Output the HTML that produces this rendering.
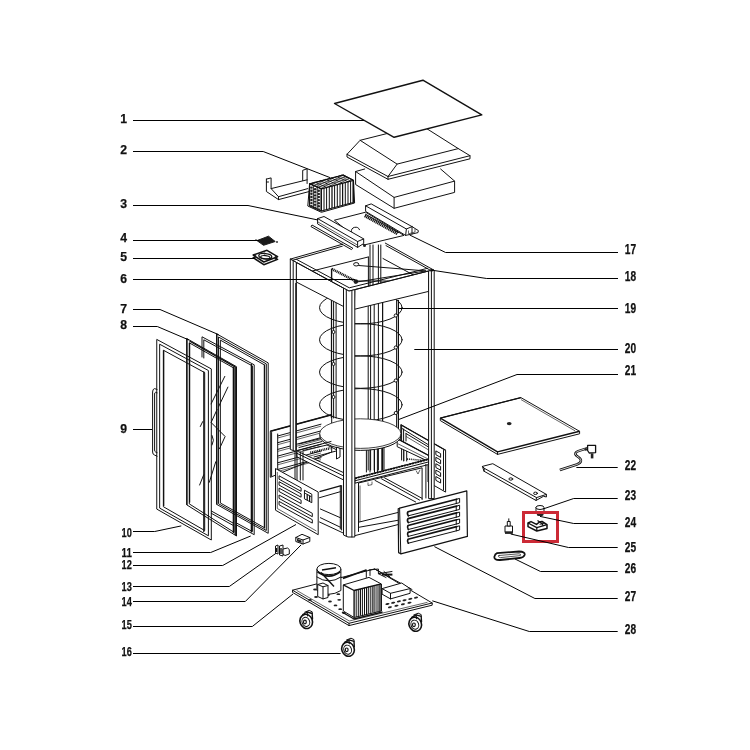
<!DOCTYPE html>
<html><head><meta charset="utf-8"><title>Exploded view</title>
<style>
html,body{margin:0;padding:0;background:#fff;}
body{width:750px;height:750px;overflow:hidden;font-family:"Liberation Sans",sans-serif;}
svg{display:block;will-change:transform;-webkit-font-smoothing:antialiased}
.l{fill:none;stroke:#111;stroke-width:1;stroke-linejoin:round;stroke-linecap:round}
.lw{fill:#fff;stroke:#111;stroke-width:1;stroke-linejoin:round}
.t{fill:none;stroke:#222;stroke-width:0.7}
.k{fill:none;stroke:#111;stroke-width:1.4;stroke-linejoin:round}
.l2{fill:none;stroke:#111;stroke-width:1.25;stroke-linejoin:round}
.g{fill:none;stroke:#555;stroke-width:0.7}
.d{fill:#222;stroke:none}
.ld{fill:none;stroke:#000;stroke-width:1}
text{font-family:"Liberation Sans",sans-serif;font-weight:bold;font-size:13.4px;fill:#111;stroke:#111;stroke-width:0.25}
text.r{font-size:14px}
</style></head><body>
<svg width="750" height="750" viewBox="0 0 750 750">
<rect x="0" y="0" width="750" height="750" fill="#fff"/>
<text x="120.2" y="122.8" textLength="6.8" lengthAdjust="spacingAndGlyphs">1</text>
<text x="120.2" y="154.1" textLength="6.8" lengthAdjust="spacingAndGlyphs">2</text>
<text x="120.2" y="207.8" textLength="6.8" lengthAdjust="spacingAndGlyphs">3</text>
<text x="120.2" y="242.4" textLength="6.8" lengthAdjust="spacingAndGlyphs">4</text>
<text x="120.2" y="261.1" textLength="6.8" lengthAdjust="spacingAndGlyphs">5</text>
<text x="120.2" y="282.9" textLength="6.8" lengthAdjust="spacingAndGlyphs">6</text>
<text x="120.2" y="313.0" textLength="6.8" lengthAdjust="spacingAndGlyphs">7</text>
<text x="120.2" y="328.9" textLength="6.8" lengthAdjust="spacingAndGlyphs">8</text>
<text x="120.2" y="433.3" textLength="6.8" lengthAdjust="spacingAndGlyphs">9</text>
<text x="121.5" y="536.7" textLength="10.3" lengthAdjust="spacingAndGlyphs">10</text>
<text x="121.5" y="556.7" textLength="10.3" lengthAdjust="spacingAndGlyphs">11</text>
<text x="121.5" y="569.0" textLength="10.3" lengthAdjust="spacingAndGlyphs">12</text>
<text x="121.5" y="590.7" textLength="10.3" lengthAdjust="spacingAndGlyphs">13</text>
<text x="121.5" y="606.0" textLength="10.3" lengthAdjust="spacingAndGlyphs">14</text>
<text x="121.5" y="629.3" textLength="10.3" lengthAdjust="spacingAndGlyphs">15</text>
<text x="121.5" y="655.7" textLength="10.3" lengthAdjust="spacingAndGlyphs">16</text>
<text class="r" x="624.8" y="254.0" textLength="11.3" lengthAdjust="spacingAndGlyphs">17</text>
<text class="r" x="624.8" y="281.0" textLength="11.3" lengthAdjust="spacingAndGlyphs">18</text>
<text class="r" x="624.8" y="313.0" textLength="11.3" lengthAdjust="spacingAndGlyphs">19</text>
<text class="r" x="624.8" y="353.0" textLength="11.3" lengthAdjust="spacingAndGlyphs">20</text>
<text class="r" x="624.8" y="375.0" textLength="11.3" lengthAdjust="spacingAndGlyphs">21</text>
<text class="r" x="624.8" y="470.3" textLength="11.3" lengthAdjust="spacingAndGlyphs">22</text>
<text class="r" x="624.8" y="500.1" textLength="11.3" lengthAdjust="spacingAndGlyphs">23</text>
<text class="r" x="624.8" y="526.5" textLength="11.3" lengthAdjust="spacingAndGlyphs">24</text>
<text class="r" x="624.8" y="551.8" textLength="11.3" lengthAdjust="spacingAndGlyphs">25</text>
<text class="r" x="624.8" y="572.8" textLength="11.3" lengthAdjust="spacingAndGlyphs">26</text>
<text class="r" x="624.8" y="600.6" textLength="11.3" lengthAdjust="spacingAndGlyphs">27</text>
<text class="r" x="624.8" y="633.5" textLength="11.3" lengthAdjust="spacingAndGlyphs">28</text>
<path class="lw" d="M355.6,171.5 L394.1,197.4 L454.6,181.1 L454.6,192.4 L394.1,208.3 L355.6,184.5Z"/>
<path class="l" d="M394.1,197.4 L394.1,208.3"/>
<path class="l" d="M355.6,171.5 L364.7,169.0"/>
<path class="l" d="M454.6,181.1 L440.6,169.0"/>
<path class="lw" d="M347.0,154.3 L360.1,140.3 L421.0,125.0 L458.3,148.6 L470.0,155.7 L470.0,158.8 L388.0,179.3 L347.0,157.0Z"/>
<path class="l" d="M360.1,140.3 L397.1,164.1 L458.3,148.6"/>
<path class="l" d="M397.1,164.1 L388.0,176.5"/>
<path class="l" d="M347.0,154.3 L388.0,176.5 L470.0,155.7"/>
<path class="l" d="M388.0,176.5 L388.0,179.3"/>
<path class="lw" d="M334.5,103.5 L422.9,80.2 L481.8,114.9 L394.1,137.3Z" style="stroke-width:1.4"/>
<path class="l" d="M266.4,179.1 L271.1,177.9 L271.1,188.6 L307.1,179.8"/>
<path class="l" d="M266.4,179.1 L266.4,191.5 L278.5,199.6 L309.3,191.5"/>
<path class="l" d="M266.4,182.0 L268.5,182.0"/>
<path class="l" d="M271.1,188.6 L278.5,196.7 L307.8,188.6"/>
<path class="l" d="M278.5,196.7 L278.5,199.6"/>
<path class="l" d="M302.7,180.5 L302.7,170.3 L307.1,168.8 L307.1,183.5"/>
<path class="lw" d="M307.8,206.0 L309.6,184.0 L343.2,175.0 L353.5,180.3 L354.6,203.0 L321.4,212.3Z"/>
<path class="l2" d="M321.3,188.8 L321.3,210.8"/>
<path class="l" d="M321.3,188.8 L309.8,183.6"/>
<path class="l" d="M324.0,188.1 L324.0,210.1"/>
<path class="t" d="M324.0,188.1 L312.5,182.9"/>
<path class="l" d="M326.6,187.4 L326.6,209.4"/>
<path class="l" d="M326.6,187.4 L315.1,182.2"/>
<path class="l" d="M329.3,186.7 L329.3,208.7"/>
<path class="t" d="M329.3,186.7 L317.8,181.5"/>
<path class="l2" d="M332.0,186.0 L332.0,208.0"/>
<path class="l" d="M332.0,186.0 L320.5,180.8"/>
<path class="l" d="M334.6,185.3 L334.6,207.3"/>
<path class="t" d="M334.6,185.3 L323.1,180.1"/>
<path class="l" d="M337.3,184.6 L337.3,206.6"/>
<path class="l" d="M337.3,184.6 L325.8,179.4"/>
<path class="l" d="M340.0,183.8 L340.0,205.8"/>
<path class="t" d="M340.0,183.8 L328.5,178.6"/>
<path class="l2" d="M342.6,183.1 L342.6,205.1"/>
<path class="l" d="M342.6,183.1 L331.1,177.9"/>
<path class="l" d="M345.3,182.4 L345.3,204.4"/>
<path class="t" d="M345.3,182.4 L333.8,177.2"/>
<path class="l" d="M348.0,181.7 L348.0,203.7"/>
<path class="l" d="M348.0,181.7 L336.5,176.5"/>
<path class="l" d="M350.6,181.0 L350.6,203.0"/>
<path class="t" d="M350.6,181.0 L339.1,175.8"/>
<path class="l2" d="M353.3,180.3 L353.3,202.3"/>
<path class="l" d="M353.3,180.3 L341.8,175.1"/>
<path class="l2" d="M309.6,183.8 L321.3,188.8 L353.3,180.3 L343.2,175.0Z"/>
<path class="l2" d="M309.6,183.8 L309.6,205.6 L321.3,211.0 L321.3,188.8Z"/>
<path class="l2" d="M321.3,211.0 L353.3,202.5 L353.3,180.3"/>
<path class="t" d="M313.5,185.5 L345.5,177.0"/>
<path class="t" d="M317.3,187.2 L349.3,178.7"/>
<circle cx="311.4" cy="187.6" r="1.2" class="d"/>
<circle cx="315.1" cy="189.2" r="1.2" class="d"/>
<circle cx="318.8" cy="190.8" r="1.2" class="d"/>
<circle cx="311.4" cy="190.7" r="1.2" class="d"/>
<circle cx="315.1" cy="192.3" r="1.2" class="d"/>
<circle cx="318.8" cy="193.9" r="1.2" class="d"/>
<circle cx="311.4" cy="193.8" r="1.2" class="d"/>
<circle cx="315.1" cy="195.4" r="1.2" class="d"/>
<circle cx="318.8" cy="197.0" r="1.2" class="d"/>
<circle cx="311.4" cy="196.9" r="1.2" class="d"/>
<circle cx="315.1" cy="198.5" r="1.2" class="d"/>
<circle cx="318.8" cy="200.1" r="1.2" class="d"/>
<circle cx="311.4" cy="200.0" r="1.2" class="d"/>
<circle cx="315.1" cy="201.6" r="1.2" class="d"/>
<circle cx="318.8" cy="203.2" r="1.2" class="d"/>
<circle cx="311.4" cy="203.1" r="1.2" class="d"/>
<circle cx="315.1" cy="204.7" r="1.2" class="d"/>
<circle cx="318.8" cy="206.3" r="1.2" class="d"/>
<circle cx="311.4" cy="206.2" r="1.2" class="d"/>
<circle cx="315.1" cy="207.8" r="1.2" class="d"/>
<circle cx="318.8" cy="209.4" r="1.2" class="d"/>
<path class="l" d="M313.3,185.4 L313.3,207.3"/>
<path class="l" d="M317.2,187.0 L317.2,209.1"/>
<path class="lw" d="M334.4,220.2 L365.6,212.2 L404.0,235.4 L364.0,245.0Z"/>
<path class="l" d="M351.5,231.5 a4,3.2 0 0 1 8,-1.8"/>
<path class="lw" d="M312.0,225.0 L352.8,248.2 L351.5,249.6 L311.0,226.6Z"/>
<path class="lw" d="M317.6,218.6 L324.0,216.5 L363.7,238.9 L363.7,243.5 L357.6,247.4 L317.6,223.9Z"/>
<path class="l" d="M317.6,218.6 L357.6,241.5 L363.7,238.9"/>
<path class="l" d="M357.6,241.5 L357.6,247.4"/>
<path class="t" d="M318.0,222.0 L357.0,244.8"/>
<circle cx="364.5" cy="245.5" r="1.5" class="d"/>
<path class="lw" d="M365.6,205.8 L371.2,203.9 L412.0,226.6 L418.4,230.6 L418.0,232.6 L412.0,234.0 L405.6,235.4 L365.6,211.4Z"/>
<path class="l" d="M365.6,205.8 L406.4,229.0 L412.0,226.6"/>
<path class="l" d="M406.4,229.0 L405.6,235.4"/>
<path class="l" d="M412.0,226.6 L412.0,234.0"/>
<path class="t" d="M408.5,230.5 L408.5,233.8 L415.0,232.0 L415.0,229.0"/>
<path class="k" d="M364.8,215.7 L397.8,233.9" style="stroke-width:3.1;stroke-dasharray:1.2 0.6;stroke-linecap:butt"/>
<path class="l" d="M365.5,214.2 L398.6,232.6"/>
<path class="d" d="M257.0,240.6 L268.5,236.2 L275.2,241.5 L263.5,245.3Z" style="fill:#1a1a1a;stroke:#1a1a1a;stroke-width:1"/>
<circle class="d" cx="277" cy="242" r="0.9"/>
<circle class="d" cx="256" cy="239.6" r="0.6"/>
<path class="lw" d="M253.2,257.7 L267.0,253.0 L277.6,259.4 L263.8,264.7Z" style="stroke-width:1.5"/>
<path class="lw" d="M253.2,255.0 L267.0,250.3 L277.6,256.7 L263.8,262.0Z" style="stroke-width:1.5"/>
<ellipse class="l" cx="265.3" cy="256.2" rx="6.5" ry="2.6" style="stroke-width:1.3" transform="rotate(6 265.3 256.2)"/>
<circle class="d" cx="264.5" cy="253.5" r="0.9"/>
<circle class="d" cx="255.5" cy="255.3" r="0.8"/><circle class="d" cx="275.5" cy="256.8" r="0.8"/><circle class="d" cx="275.5" cy="259.8" r="0.8"/>
<ellipse class="l" cx="265.3" cy="257.3" rx="4.6" ry="1.7" style="stroke-width:1.1" transform="rotate(6 265.3 257.3)"/>
<path class="lw" d="M270.3,431.3 L331.7,414.7 L331.7,452.0 L270.3,477.3Z"/>
<path class="k" d="M270.3,431.3 L331.7,414.7"/>
<path class="l" d="M271.6,432.5 L271.6,476.0"/>
<path class="l" d="M277.7,436.0 L321.0,424.2"/>
<path class="t" d="M277.7,438.0 L321.0,426.2"/>
<path class="l" d="M277.7,442.7 L321.0,430.9"/>
<path class="t" d="M277.7,444.7 L321.0,432.9"/>
<path class="l" d="M277.7,449.4 L321.0,437.6"/>
<path class="t" d="M277.7,451.4 L321.0,439.6"/>
<path class="l" d="M277.7,456.1 L321.0,444.3"/>
<path class="t" d="M277.7,458.1 L321.0,446.3"/>
<path class="l" d="M277.7,462.8 L321.0,451.0"/>
<path class="t" d="M277.7,464.8 L321.0,453.0"/>
<path class="l" d="M277.7,469.5 L321.0,457.7"/>
<path class="t" d="M277.7,471.5 L321.0,459.7"/>
<path class="l" d="M277.7,434.0 L277.7,474.0"/>
<path class="lw" d="M400.8,424.7 L445.6,450.3 L445.6,492.1 L428.0,482.0 L428.0,461.3 L400.8,447.0Z"/>
<path class="l2" d="M400.8,424.7 L445.6,450.3"/>
<path class="l" d="M402.0,428.5 L428.0,444.5"/>
<path class="l" d="M443.5,450.5 L443.5,490.0"/>
<path class="l" d="M401.6,426.0 L401.6,460.0"/>
<path class="l" d="M403.6,429.0 L403.6,461.0"/>
<path class="l" d="M436.2,451.1 L440.6,453.6 L440.6,457.4 L436.2,454.9Z"/>
<path class="l" d="M436.2,457.5 L440.6,460.0 L440.6,463.8 L436.2,461.3Z"/>
<path class="l" d="M436.2,463.9 L440.6,466.4 L440.6,470.2 L436.2,467.7Z"/>
<path class="l" d="M436.2,470.3 L440.6,472.8 L440.6,476.6 L436.2,474.1Z"/>
<path class="l" d="M436.2,476.7 L440.6,479.2 L440.6,483.0 L436.2,480.5Z"/>
<path class="l" d="M406.0,433.5 L428.0,446.7"/>
<path class="t" d="M406.0,436.4 L428.0,449.6"/>
<path class="l" d="M406.0,433.5 L406.0,441.0"/>
<path class="lw" d="M397.2,438.6 L428.7,455.5 L428.7,461.5 L397.2,446.7Z"/>
<path class="l2" d="M397.2,438.6 L428.7,455.5"/>
<path class="t" d="M398.0,443.8 L428.7,459.3"/>
<path class="t" d="M404.0,450.0 L404.0,461.0"/>
<path class="l" d="M406.7,451.3 L406.7,461.0"/>
<path class="l" d="M407,459 L428,460.8" style="stroke-width:1.6;stroke-dasharray:1 0.9;stroke-linecap:butt"/>
<path class="l" d="M370.0,245.0 L370.0,292.0"/>
<path class="l" d="M373.0,245.0 L373.0,292.0"/>
<path class="l" d="M378.4,245.0 L378.4,292.0"/>
<path class="l" d="M380.8,245.0 L380.8,292.0"/>
<path class="l" d="M368.4,257.0 L368.4,290.0"/>
<path class="l" d="M368.2,300.0 L368.2,470.0"/>
<path class="l" d="M370.6,300.0 L370.6,470.0"/>
<path class="l" d="M374.2,300.0 L374.2,470.0"/>
<path class="l" d="M378.4,300.0 L378.4,470.0"/>
<path class="l2" d="M382.6,300.0 L382.6,470.0"/>
<path class="l2" d="M331.5,300.0 L331.5,418.0"/>
<path class="l" d="M333.6,300.0 L333.6,418.0"/>
<path class="l" d="M336.1,300.0 L336.1,418.0"/>
<path class="l" d="M396.6,300.0 L396.6,430.0"/>
<path class="l2" d="M398.4,300.0 L398.4,430.0"/>
<ellipse class="l" cx="360.8" cy="307.7" rx="41.3" ry="16.2"/>
<ellipse class="l" cx="360.8" cy="339.8" rx="41.3" ry="16.2"/>
<ellipse class="l" cx="360.8" cy="372.1" rx="41.3" ry="16.2"/>
<ellipse class="l" cx="360.8" cy="404.8" rx="41.3" ry="16.2"/>
<circle class="lw" cx="395.8" cy="315.5" r="1.6"/>
<circle class="lw" cx="395.8" cy="347.5" r="1.6"/>
<circle class="lw" cx="395.8" cy="380.5" r="1.6"/>
<circle class="lw" cx="395.8" cy="413" r="1.6"/>
<circle class="lw" cx="333.5" cy="332" r="1.5"/>
<circle class="lw" cx="333.5" cy="364" r="1.5"/>
<circle class="lw" cx="333.5" cy="397" r="1.5"/>
<path class="l" d="M366.4,445.0 L366.4,472.0"/>
<path class="l" d="M370.0,445.0 L370.0,472.0"/>
<path class="l" d="M374.5,445.0 L374.5,472.0"/>
<path class="l" d="M377.4,445.0 L377.4,472.0"/>
<path class="l" d="M381.8,445.0 L381.8,472.0"/>
<path class="l" d="M384.0,445.0 L384.0,472.0"/>
<path class="k" d="M310.3,452.7 L330.3,448.2" style="stroke-width:2.4;stroke-dasharray:1 0.8;stroke-linecap:butt"/>
<path class="l" d="M303.0,450.5 L327.0,445.0 L338.0,450.5 L314.0,457.0"/>
<path class="l" d="M299.0,447.5 L322.0,441.5"/>
<path class="l" d="M299.0,444.0 L321.0,438.5"/>
<ellipse class="lw" cx="360.3" cy="435.6" rx="40.6" ry="14.8"/>
<ellipse class="lw" cx="360.3" cy="433.6" rx="40.6" ry="14.8" style="stroke-width:0.8"/>
<path class="lw" d="M336.5,447.0 L336.5,459.0 L340.0,457.0 L340.0,448.5Z"/>
<path class="lw" d="M296.3,450.7 L343.7,472.7 L343.7,480.0 L296.3,456.5Z"/>
<path class="l" d="M296.3,453.0 L343.7,476.0"/>
<path class="lw" d="M354.9,478.2 L428.7,459.1 L428.7,464.5 L354.9,483.2Z"/>
<path class="l" d="M354.9,478.4 L428.7,459.3" style="stroke-width:1.8;stroke-dasharray:2.2 0.6;stroke-linecap:butt"/>
<path class="l" d="M354.9,480.8 L428.7,461.9"/>
<path class="l" d="M296.3,450.7 L331.0,441.5"/>
<path class="l" d="M358.5,531.5 L358.5,483.0 L422.1,467.8 L422.1,499.5"/>
<path class="t" d="M360.0,485.5 L360.0,522.0"/>
<path class="l" d="M359.4,522.0 L397.9,512.5"/>
<path class="l" d="M359.4,527.2 L397.9,520.3"/>
<path class="l" d="M355.4,535.5 L397.9,524.6"/>
<path class="l" d="M425.9,464.4 L425.9,498.0"/>
<path class="t" d="M368.0,482.5 L368.0,485.5 L372.0,484.6 L372.0,481.6"/>
<path class="t" d="M416.0,470.5 L418.0,474.0 L420.0,469.8"/>
<path class="l" d="M375.0,480.4 L415.7,502.0"/>
<path class="l" d="M384.5,477.8 L422.0,498.3"/>
<path class="l" d="M381.5,478.8 L419.5,500.0"/>
<path class="l" d="M295.0,452.0 L295.0,480.0"/>
<path class="l" d="M297.0,452.0 L297.0,480.0"/>
<path class="l" d="M300.3,452.0 L300.3,480.0"/>
<path class="l" d="M303.0,452.0 L303.0,480.0"/>
<path class="l2" d="M319.5,491.7 L341.2,485.6"/>
<path class="l" d="M319.5,497.7 L340.3,491.7"/>
<path class="l" d="M340.3,486.0 L340.3,529.0"/>
<path class="l" d="M341.6,485.6 L341.6,530.0"/>
<path class="l" d="M320.4,509.0 L340.3,517.7"/>
<path class="l" d="M320.4,517.7 L340.3,527.2"/>
<path class="l" d="M319.5,522.0 L343.8,533.3"/>
<path class="l" d="M312.7,270.9 L368.2,257.0"/>
<path class="l" d="M383.0,258.5 L421.5,279.4"/>
<path class="k" d="M331.8,268.9 L355,280.8" style="stroke-width:2.6;stroke-dasharray:1.1 0.7;stroke-linecap:butt"/>
<path class="k" d="M331.6,268.6 L331.6,281.0"/>
<circle class="d" cx="355.8" cy="281.6" r="2.3"/>
<path class="l" d="M355.6,281.0 L388.0,281.0"/>
<path class="l" d="M358.6,265.5 L425.8,270.9"/>
<path class="l" d="M357.0,282.0 L425.8,270.9"/>
<ellipse class="lw" cx="356.2" cy="264.3" rx="2.6" ry="1.7"/>
<path class="lw" d="M296.3,262.4 L343.5,288.1 L344.7,307.1 L296.3,282.0Z"/>
<path class="lw" d="M354.8,289.6 L428.6,271.0 L428.6,291.4 L354.3,309.3Z"/>
<path class="l" d="M290.3,259.1 L349.0,291.1 L433.3,269.8"/>
<path class="l" d="M290.3,259.1 L342.6,244.2"/>
<path class="l" d="M385.3,243.1 L433.3,269.8"/>
<path class="l" d="M292.5,260.3 L342.3,246.2"/>
<path class="l" d="M386.0,245.6 L431.0,270.6"/>
<path class="l" d="M296.5,259.4 L349.3,287.8 L427.5,268.3"/>
<path class="lw" d="M290.3,259.1 L296.3,262.4 L296.3,451.5 L290.3,449.5Z"/>
<path class="l" d="M293.2,261.0 L293.2,450.5"/>
<path class="l2" d="M295.9,283.0 L295.9,451.0"/>
<path class="lw" d="M343.5,288.1 L349.0,291.1 L354.8,289.6 L354.8,537.0 L348.0,537.0 L343.5,535.0Z"/>
<path class="l" d="M346.3,290.0 L346.3,536.0"/>
<path class="l" d="M351.9,290.5 L351.9,537.0"/>
<path class="lw" d="M428.6,271.0 L433.3,269.8 L434.2,270.5 L434.2,498.6 L428.6,498.6Z"/>
<path class="l" d="M431.4,270.5 L431.4,498.6"/>
<circle class="d" cx="431.5" cy="270.3" r="1.5"/>
<path class="lw" d="M275.5,468.5 L318.2,492.0 L318.2,534.7 L275.5,510.2Z"/>
<path class="t" d="M277.3,472.0 L277.3,508.5 L316.4,531.0"/>
<path class="l" d="M279.4,476.0 L301.1,487.9 L301.1,491.3 L279.4,479.4Z"/>
<path class="l" d="M279.4,481.9 L301.1,493.8 L301.1,497.2 L279.4,485.3Z"/>
<path class="l" d="M279.4,488.3 L301.1,500.2 L301.1,503.6 L279.4,491.7Z"/>
<path class="l" d="M279.4,495.2 L312.3,513.3 L312.3,516.7 L279.4,498.6Z"/>
<path class="l" d="M279.4,501.6 L312.3,519.7 L312.3,523.1 L279.4,505.0Z"/>
<path class="l" d="M304.8,490.4 L311.8,494.2 L311.8,502.7 L304.8,499.0Z"/>
<path class="l2" d="M307.2,494.5 L307.2,500.0"/>
<path class="l2" d="M309.6,496.0 L309.6,501.3"/>
<path class="l" d="M305.5,493.5 L311.0,496.5"/>
<path class="lw" d="M398.2,508.8 L399.6,508.2 L466.8,490.8 L467.4,536.4 L400.8,553.8 L398.6,552.6Z" style="stroke-width:1.2"/>
<path class="l" d="M399.6,508.2 L400.8,553.8"/>
<path class="l" d="M408.3,515.8 Q406.8,513.8 408,511.8 L456.6,499.2" style="stroke-width:1.7"/>
<path class="l" d="M408.3,515.8 L456.6,503.4"/>
<path class="l" d="M456.6,499.2 L459.6,498.4 L459.6,502.6 L456.6,503.4Z"/>
<path class="l" d="M408.3,522.6 Q406.8,520.6 408,518.6 L456.6,506.1" style="stroke-width:1.7"/>
<path class="l" d="M408.3,522.6 L456.6,510.2"/>
<path class="l" d="M456.6,506.1 L459.6,505.2 L459.6,509.4 L456.6,510.2Z"/>
<path class="l" d="M408.3,529.5 Q406.8,527.5 408,525.5 L456.6,512.9" style="stroke-width:1.7"/>
<path class="l" d="M408.3,529.5 L456.6,517.1"/>
<path class="l" d="M456.6,512.9 L459.6,512.1 L459.6,516.3 L456.6,517.1Z"/>
<path class="l" d="M408.3,536.4 Q406.8,534.4 408,532.4 L456.6,519.8" style="stroke-width:1.7"/>
<path class="l" d="M408.3,536.4 L456.6,524.0"/>
<path class="l" d="M456.6,519.8 L459.6,519.0 L459.6,523.1 L456.6,524.0Z"/>
<path class="l" d="M408.3,543.2 Q406.8,541.2 408,539.2 L456.6,526.6" style="stroke-width:1.7"/>
<path class="l" d="M408.3,543.2 L456.6,530.8"/>
<path class="l" d="M456.6,526.6 L459.6,525.8 L459.6,530.0 L456.6,530.8Z"/>
<path class="l" d="M216.9,334.0 L268.2,362.9 L268.2,533.3 L216.9,504.5Z"/>
<path class="l" d="M218.8,337.2 L266.3,363.9 L266.3,530.5 L218.8,503.9Z"/>
<path class="l" d="M220.7,340.3 L264.4,364.9 L264.4,527.7 L220.7,503.2Z"/>
<path class="l" d="M202.0,357.0 L202.0,336.8 L254.2,364.8 L254.2,534.7 L236.5,525.0"/>
<path class="l" d="M203.8,358.0 L203.8,339.8 L252.4,365.9 L252.4,531.6 L236.5,523.0"/>
<path class="l" d="M211.3,511.0 L233.0,523.0"/>
<path class="l" d="M211.3,513.3 L233.0,525.3"/>
<path class="k" d="M251.4,364.0 L251.4,532.5"/>
<path class="l" d="M187.0,338.7 L236.5,366.7 L236.5,536.0 L187.0,505.0Z"/>
<path class="l" d="M189.6,343.0 L233.9,368.1 L233.9,532.2 L189.6,504.1Z"/>
<path class="k" d="M235.2,366.5 L235.2,535.0"/>
<path class="k" d="M233.4,367.0 L233.4,533.0"/>
<path class="k" d="M189.5,341.0 L235.0,366.9"/>
<path class="l" d="M224.8,376.4 L211.1,403.9"/>
<path class="l" d="M227.9,387.1 L218.6,406.7"/>
<path class="l" d="M217.1,409.5 L211.1,422.5 L225.1,436.5 L219.5,448.7"/>
<path class="l" d="M215.8,461.7 L209.3,482.3"/>
<path class="l" d="M202.7,421.6 L200.3,426.5"/>
<path class="l" d="M203.7,474.8 L199.6,485.0"/>
<path class="l" d="M212.0,435.5 L213.4,440.3 L212.0,445.0"/>
<path class="l" d="M157.1,339.6 L211.3,368.9 L211.3,540.0 L157.1,509.3Z"/>
<path class="l" d="M160.0,344.4 L208.4,370.5 L208.4,535.8 L160.0,508.3Z"/>
<path class="l" d="M163.7,350.4 L204.7,372.6 L204.7,530.5 L163.7,506.9Z"/>
<path class="l" d="M157.1,389.5 L154.6,388.6 Q152.6,389 152.6,392 L152.6,452 Q152.6,454.6 154.8,455.2 L157.1,456.2"/>
<path class="l" d="M157.1,392.8 L155.6,392.3 Q154.6,392.6 154.6,394 L154.6,450 Q154.6,451.6 155.6,452 L157.1,452.6"/>
<path class="lw" d="M275.5,546.0 L278.0,545.0 L278.0,554.0 L275.5,553.0Z"/>
<path class="lw" d="M279.5,546.0 L283.0,545.0 L283.0,556.0 L279.5,555.0Z"/>
<path class="lw" d="M283.0,549.0 L287.5,548.0 L289.3,549.5 L289.3,554.0 L285.0,555.5 L283.0,554.0Z"/>
<path class="k" d="M276.5,548.0 L276.5,552.0"/>
<path class="k" d="M281.0,548.0 L281.0,554.0"/>
<path class="lw" d="M295.8,537.5 L302.0,534.3 L309.8,537.5 L309.8,541.5 L303.0,544.0 L295.8,541.5Z"/>
<path class="l" d="M295.8,537.5 L303.0,540.0 L309.8,537.5"/>
<path class="l" d="M303.0,540.0 L303.0,544.0"/>
<path class="d" d="M297.0,538.8 L301.5,540.5 L301.5,543.0 L297.0,541.3Z"/>
<path class="l2" d="M203.8,371.5 L203.8,532.0"/>
<path class="l2" d="M163.7,350.5 L163.7,506.0"/>
<path class="l2" d="M216.9,334.0 L216.9,504.5"/>
<path class="l2" d="M187.0,338.7 L187.0,505.0"/>
<path class="l2" d="M189.6,342.8 L189.6,502.5"/>
<path class="l2" d="M264.5,364.5 L264.5,528.5"/>
<path class="lw" d="M292.5,590.2 L374.6,568.9 L432.2,603.0 L432.2,605.2 L349.0,625.6 L292.5,592.4Z"/>
<path class="l" d="M292.5,590.2 L349.0,623.3 L432.2,603.0"/>
<path class="l" d="M349.0,623.3 L349.0,625.6"/>
<path class="t" d="M296.5,590.3 L349.3,621.0 L427.5,602.3"/>
<path class="l" d="M374.7,569.0 L412.0,589.5"/>
<path class="lw" d="M382.1,588.6 L401.7,583.0 L410.1,588.6 L410.1,593.3 L390.5,598.9 L382.1,594.2Z"/>
<path class="l" d="M382.1,588.6 L390.5,593.3 L410.1,588.6"/>
<path class="l" d="M390.5,593.3 L390.5,598.9"/>
<path class="k" d="M342.9,578.3 L366.3,570.0" style="stroke-width:1.8"/>
<path class="l" d="M366.3,570.0 L366.3,577.4"/>
<path class="l" d="M369.0,570.0 L378.4,569.0 L378.4,573.7 L386.0,577.5"/>
<path class="l" d="M370.0,570.0 L370.0,575.5"/>
<path class="k" d="M382.0,574.6 L392.4,574.6" style="stroke-width:2"/>
<path class="l" d="M378.4,573.7 L392.0,571.5"/>
<path class="l" d="M384.0,571.5 L390.0,577.0"/>
<ellipse class="d" cx="387.5" cy="604.0" rx="2.1" ry="0.95" transform="rotate(-12 387.5 604.0)"/>
<ellipse class="d" cx="393.2" cy="602.7" rx="2.1" ry="0.95" transform="rotate(-12 393.2 602.7)"/>
<ellipse class="d" cx="398.9" cy="601.4" rx="2.1" ry="0.95" transform="rotate(-12 398.9 601.4)"/>
<ellipse class="d" cx="404.6" cy="600.2" rx="2.1" ry="0.95" transform="rotate(-12 404.6 600.2)"/>
<ellipse class="d" cx="410.3" cy="598.9" rx="2.1" ry="0.95" transform="rotate(-12 410.3 598.9)"/>
<ellipse class="d" cx="416.0" cy="597.6" rx="2.1" ry="0.95" transform="rotate(-12 416.0 597.6)"/>
<ellipse class="d" cx="390.0" cy="607.3" rx="2.1" ry="0.95" transform="rotate(-12 390.0 607.3)"/>
<ellipse class="d" cx="396.5" cy="605.8" rx="2.1" ry="0.95" transform="rotate(-12 396.5 605.8)"/>
<ellipse class="d" cx="403.0" cy="604.3" rx="2.1" ry="0.95" transform="rotate(-12 403.0 604.3)"/>
<ellipse class="d" cx="409.5" cy="602.8" rx="2.1" ry="0.95" transform="rotate(-12 409.5 602.8)"/>
<ellipse class="d" cx="315" cy="589.5" rx="1.9" ry="0.9"/>
<ellipse class="d" cx="316" cy="597" rx="1.9" ry="0.9"/>
<ellipse class="d" cx="328" cy="595" rx="1.9" ry="0.9"/>
<ellipse class="d" cx="330" cy="601.5" rx="1.9" ry="0.9"/>
<ellipse class="d" cx="338.3" cy="594.2" rx="1.9" ry="0.9"/>
<ellipse class="d" cx="339.2" cy="599.8" rx="1.9" ry="0.9"/>
<ellipse class="d" cx="335.5" cy="605.4" rx="1.9" ry="0.9"/>
<ellipse class="d" cx="340.2" cy="609.2" rx="1.9" ry="0.9"/>
<ellipse class="d" cx="344" cy="613" rx="1.9" ry="0.9"/>
<ellipse class="d" cx="310" cy="600" rx="1.9" ry="0.9"/>
<path class="lw" d="M316.9,569 L316.9,590.5 Q328.9,598 340.9,590.5 L340.9,569"/>
<ellipse class="lw" cx="328.9" cy="569" rx="12" ry="5.6"/>
<path class="k" d="M317.3,571.6 Q328.9,580.6 340.5,571.6" style="stroke-width:1.8"/>
<path class="l" d="M316.9,577 Q328.9,585 340.9,577"/>
<path class="k" d="M321.0,572.5 L334.0,586.5"/>
<path class="k" d="M322.0,570.0 L336.0,567.8"/>
<path class="lw" d="M317.7,584.5 L323.0,583.0 L328.0,585.5 L328.0,597.5 L323.0,598.9 L317.7,596.5Z"/>
<path class="l" d="M323.0,586.8 L323.0,598.9"/>
<path class="l" d="M317.7,584.5 L323.0,586.8 L328.0,585.5"/>
<path class="lw" d="M343.3,584.9 L369.0,577.4 L381.2,583.9 L381.2,611.0 L354.1,617.5 L343.3,611.0Z"/>
<path class="k" d="M343.3,584.9 L354.1,590.5 L381.2,583.9"/>
<path class="k" d="M354.1,590.5 L354.1,617.5"/>
<path class="l" d="M356.2,590.0 L356.2,616.6"/>
<path class="l" d="M358.3,589.5 L358.3,616.1"/>
<path class="l2" d="M360.4,589.0 L360.4,615.6"/>
<path class="l" d="M362.4,588.5 L362.4,615.1"/>
<path class="l" d="M364.5,588.0 L364.5,614.6"/>
<path class="l2" d="M366.6,587.5 L366.6,614.1"/>
<path class="l" d="M368.7,586.9 L368.7,613.5"/>
<path class="l" d="M370.8,586.4 L370.8,613.0"/>
<path class="l2" d="M372.9,585.9 L372.9,612.5"/>
<path class="l" d="M374.9,585.4 L374.9,612.0"/>
<path class="l" d="M377.0,584.9 L377.0,611.5"/>
<path class="l2" d="M379.1,584.4 L379.1,611.0"/>
<path class="k" d="M381.2,583.9 L381.2,611.0"/>
<path class="k" d="M342.0,612.0 L354.0,619.0 L382.5,612.0"/>
<ellipse class="lw" cx="305.7" cy="621.5" rx="6.2" ry="7.2" style="stroke-width:1.6" transform="rotate(-20 305.7 620)"/>
<ellipse class="l" cx="305.2" cy="621.8" rx="3.8" ry="4.6" transform="rotate(-20 305.7 620)"/>
<ellipse class="l" cx="304.9" cy="622" rx="1.4" ry="1.8" style="stroke-width:1.2"/>
<path class="l" d="M302.7,614.5 L307.2,612 L312.2,613.5 L312.5,619" style="stroke-width:1.4"/>
<path class="l" d="M304.7,612.2 L309.2,610.4 L312.2,611.8 L312.2,613.5"/>
<path class="l" d="M307.2,612 L307.5,616"/>
<ellipse class="lw" cx="347.5" cy="649.3" rx="6.2" ry="7.2" style="stroke-width:1.6" transform="rotate(-20 347.5 647.8)"/>
<ellipse class="l" cx="347.0" cy="649.5999999999999" rx="3.8" ry="4.6" transform="rotate(-20 347.5 647.8)"/>
<ellipse class="l" cx="346.7" cy="649.8" rx="1.4" ry="1.8" style="stroke-width:1.2"/>
<path class="l" d="M344.5,642.3 L349.0,639.8 L354.0,641.3 L354.3,646.8" style="stroke-width:1.4"/>
<path class="l" d="M346.5,640.0 L351.0,638.1999999999999 L354.0,639.5999999999999 L354.0,641.3"/>
<path class="l" d="M349.0,639.8 L349.3,643.8"/>
<ellipse class="lw" cx="414.7" cy="624.3" rx="6.2" ry="7.2" style="stroke-width:1.6" transform="rotate(-20 414.7 622.8)"/>
<ellipse class="l" cx="414.2" cy="624.5999999999999" rx="3.8" ry="4.6" transform="rotate(-20 414.7 622.8)"/>
<ellipse class="l" cx="413.9" cy="624.8" rx="1.4" ry="1.8" style="stroke-width:1.2"/>
<path class="l" d="M411.7,617.3 L416.2,614.8 L421.2,616.3 L421.5,621.8" style="stroke-width:1.4"/>
<path class="l" d="M413.7,615.0 L418.2,613.1999999999999 L421.2,614.5999999999999 L421.2,616.3"/>
<path class="l" d="M416.2,614.8 L416.5,618.8"/>
<path class="lw" d="M440.3,418.1 L520.9,397.6 L579.6,431.3 L579.6,433.8 L497.5,454.4 L440.3,420.6Z"/>
<path class="k" d="M440.3,418.1 L497.5,451.9 L579.6,431.3"/>
<path class="l" d="M497.5,451.9 L497.5,454.4"/>
<path class="l2" d="M440.3,418.1 L520.9,397.6"/>
<path class="t" d="M521.0,399.6 L575.0,430.8"/>
<ellipse class="d" cx="509.2" cy="423.6" rx="2.4" ry="1.7"/>
<path class="lw" d="M482.4,466.4 L492.8,463.7 L546.4,494.4 L546.4,497.0 L543.5,496.3 L536.0,500.5 L535.2,500.0 L484.0,471.2Z"/>
<path class="l" d="M482.4,466.4 L484.3,468.3 L536.5,497.6 L546.4,494.4"/>
<path class="l" d="M484.3,468.3 L484.0,471.2"/>
<path class="l" d="M536.5,497.6 L536.0,500.5"/>
<ellipse class="l" cx="510.8" cy="479" rx="1.9" ry="1.2"/>
<ellipse class="l" cx="535.5" cy="493.3" rx="1.9" ry="1.2"/>
<path class="l" d="M559.8,470 L576.8,464.5 C582.2,462.6 582,459.3 578,456.8 C574,454.3 574.6,452.4 579,450.9 L587.5,448.1" style="stroke-width:2.5;stroke:#111;stroke-linecap:butt"/>
<path class="l" d="M559.8,470 L576.8,464.5 C582.2,462.6 582,459.3 578,456.8 C574,454.3 574.6,452.4 579,450.9 L587.5,448.1" style="stroke-width:0.8;stroke:#fff;stroke-linecap:butt"/>
<path class="lw" d="M587.6,445.4 L595.6,445.4 L595.6,452.6 L589.2,453.0 L587.6,450.5Z" style="stroke-width:1.3"/>
<rect class="d" x="590.8" y="453.4" width="2.6" height="5"/>
<circle class="d" cx="585.8" cy="449.4" r="1.3"/>
<path class="lw" d="M536.0,507.0 L536.0,511.5 L540.0,514.0 L544.0,512.5 L544.0,508.0Z"/>
<ellipse class="lw" cx="540" cy="507.5" rx="4" ry="2"/>
<ellipse class="d" cx="540.2" cy="514.4" rx="3.4" ry="1.6"/>
<path class="lw" d="M528.0,523.0 L531.0,521.6 L536.5,524.4 L539.5,522.0 L542.0,521.5 L547.0,524.6 L547.0,528.4 L536.8,531.0 L528.0,526.6Z" style="stroke-width:1.5"/>
<path class="l2" d="M528.0,523.0 L536.8,527.6 L547.0,524.6"/>
<path class="l2" d="M536.8,527.6 L536.8,531.0"/>
<path class="l2" d="M537.5,520.6 L541.5,523.2 L543.5,526.0"/>
<path class="l" d="M540.0,524.2 L543.5,523.4"/>
<rect x="523.5" y="512.5" width="34" height="29" fill="none" stroke="#cc2a36" stroke-width="3"/>
<path class="lw" d="M505.0,526.0 L512.5,526.0 L512.5,532.5 L505.0,532.5Z"/>
<path class="lw" d="M507.3,521.5 L510.2,521.5 L510.2,526.0 L507.3,526.0Z"/>
<path class="l" d="M508.8,518.8 L508.8,521.5"/>
<rect class="d" x="505" y="531.3" width="7.8" height="2.6"/>
<path class="l" d="M497,553.2 L519,551.5 Q525.5,551.6 524.6,555 Q523.5,557.6 519.5,558 L500,560 Q493.8,560.2 494.4,556.6 Q495,553.8 497,553.2Z" style="stroke-width:1.8"/>
<path class="l" d="M499,555.5 L519,553.8 Q521.5,554 520.3,555.6 L500.5,557.6 Q497.5,557.4 499,555.5Z" style="stroke-width:0.7"/>
<path class="ld" d="M133.0,120.5 L364.0,120.5"/>
<path class="ld" d="M133.0,151.5 L263.2,151.5 L330.0,177.6"/>
<path class="ld" d="M133.0,205.5 L248.0,205.5 L318.0,220.0"/>
<path class="ld" d="M133.0,240.5 L259.0,240.5"/>
<path class="ld" d="M133.0,258.5 L255.0,258.5"/>
<path class="ld" d="M133.0,279.5 L355.0,279.5"/>
<path class="ld" d="M133.0,309.5 L160.0,309.5 L218.7,334.7"/>
<path class="ld" d="M133.0,326.5 L157.3,326.5 L189.0,340.0"/>
<path class="ld" d="M133.0,429.5 L152.0,429.5"/>
<path class="ld" d="M409.7,235.0 L445.6,252.5 L618.0,252.5"/>
<path class="ld" d="M430.7,270.0 L486.7,278.5 L618.0,278.5"/>
<path class="ld" d="M398.0,308.5 L618.0,308.5"/>
<path class="ld" d="M414.3,349.5 L618.0,349.5"/>
<path class="ld" d="M399.0,419.4 L517.0,374.5 L618.0,374.5"/>
<path class="ld" d="M576.4,467.5 L617.7,467.5"/>
<path class="ld" d="M543.0,509.0 L573.7,498.5 L617.7,498.5"/>
<path class="ld" d="M540.0,516.4 L573.7,523.5 L617.7,523.5"/>
<path class="ld" d="M510.7,534.0 L568.5,547.5 L617.7,547.5"/>
<path class="ld" d="M515.0,559.0 L540.5,571.5 L617.7,571.5"/>
<path class="ld" d="M434.4,546.6 L534.9,598.5 L617.7,598.5"/>
<path class="ld" d="M133.0,531.5 L154.7,531.5 L181.3,525.9"/>
<path class="ld" d="M133.0,552.5 L210.7,552.5 L250.7,536.0"/>
<path class="ld" d="M133.0,565.5 L222.7,565.5 L296.0,524.5"/>
<path class="ld" d="M133.0,586.5 L229.3,586.5 L276.0,553.3"/>
<path class="ld" d="M133.0,601.5 L245.3,601.5 L301.2,544.8"/>
<path class="ld" d="M133.0,626.5 L252.3,626.5 L293.0,594.0"/>
<path class="ld" d="M133.0,653.5 L340.6,653.5"/>
<path class="ld" d="M432.3,600.8 L529.3,631.5 L617.7,631.5"/>
</svg>
</body></html>
